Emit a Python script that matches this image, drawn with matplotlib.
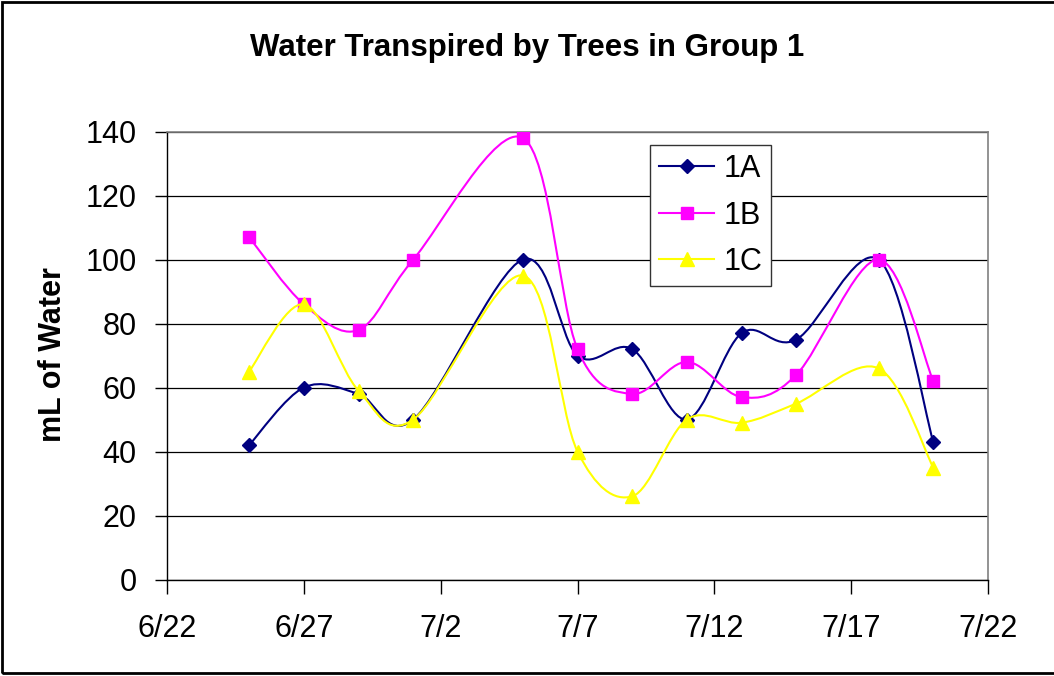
import numpy as np
import matplotlib
matplotlib.use("Agg")
import matplotlib.pyplot as plt
import matplotlib.dates as mdates
from matplotlib.path import Path
from matplotlib.patches import PathPatch, Rectangle
from matplotlib.lines import Line2D

plt.rcParams['font.family'] = ['Liberation Sans', 'DejaVu Sans']

# sample dates (2006 is arbitrary, only month/day are shown)
dates = ['2006-06-25', '2006-06-27', '2006-06-29', '2006-07-01', '2006-07-05', '2006-07-07',
         '2006-07-09', '2006-07-11', '2006-07-13', '2006-07-15', '2006-07-18', '2006-07-20']
tree_1a = [42, 60, 58, 50, 100, 70, 72, 50, 77, 75, 100, 43]
tree_1b = [107, 86, 78, 100, 138, 72, 58, 68, 57, 64, 100, 62]
tree_1c = [65, 86, 59, 50, 95, 40, 26, 50, 49, 55, 66, 35]

series_names = ['1A', '1B', '1C']
x_ticks = ['2006-06-22', '2006-06-27', '2006-07-02', '2006-07-07',
           '2006-07-12', '2006-07-17', '2006-07-22']
x_tick_labels = ['6/22', '6/27', '7/2', '7/7', '7/12', '7/17', '7/22']
y_ticks = [0, 20, 40, 60, 80, 100, 120, 140]

colors = ['#000080', '#FF00FF', '#FFFF00']
markers = ['D', 's', '^']
msizes = [7.5, 8, 9.5]


def smooth_path(x, y):
    # Excel-style smoothed line: cubic Bezier through the points (Catmull-Rom control points)
    p = np.column_stack([x, y])
    verts = [p[0]]
    codes = [Path.MOVETO]
    n = len(p)
    for i in range(n - 1):
        p0 = p[i - 1] if i > 0 else p[i]
        p3 = p[i + 2] if i + 2 < n else p[i + 1]
        c1 = p[i] + (p[i + 1] - p0) / 6
        c2 = p[i + 1] - (p3 - p[i]) / 6
        verts += [c1, c2, p[i + 1]]
        codes += [Path.CURVE4] * 3
    return Path(verts, codes)


fig = plt.figure(figsize=(10.54, 6.76), dpi=100)
ax = fig.add_axes([167 / 1054, (676 - 579.5) / 676, (988 - 167) / 1054, (579.5 - 131.5) / 676])

xd = mdates.date2num(np.array(dates, dtype='datetime64[D]'))
for vals, name, c, m, ms in zip([tree_1a, tree_1b, tree_1c], series_names, colors, markers, msizes):
    ax.add_patch(PathPatch(smooth_path(xd, vals), fill=False, edgecolor=c, lw=1.5, zorder=3))
    ax.plot(xd, vals, linestyle='none', marker=m, markersize=ms, color=c, zorder=3)

xt = mdates.date2num(np.array(x_ticks, dtype='datetime64[D]'))
ax.set_xlim(xt[0], xt[-1])
ax.set_ylim(0, 140)
ax.set_xticks(xt)
ax.set_xticklabels(x_tick_labels)
ax.set_yticks(y_ticks)
ax.tick_params(axis='both', labelsize=22, direction='out', width=1, color='black')
ax.tick_params(axis='y', length=9, pad=13)
ax.tick_params(axis='x', length=10, pad=15)

ax.set_axisbelow(True)
ax.yaxis.grid(True, color='black', lw=0.9)
for s in ['top', 'right']:
    ax.spines[s].set_color('#808080')
    ax.spines[s].set_linewidth(1.2)
for s in ['left', 'bottom']:
    ax.spines[s].set_color('black')
    ax.spines[s].set_linewidth(1.0)

fig.text(0.5, 1 - 56 / 676, 'Water Transpired by Trees in Group 1', ha='center', va='baseline',
         fontsize=22.5, fontweight='bold')
fig.text(53 / 1054, 1 - 355 / 676, 'mL of Water', rotation=90, ha='center', va='center',
         fontsize=22, fontweight='bold')

handles = [Line2D([], [], color=c, marker=m, markersize=ms, lw=1.5)
           for c, m, ms in zip(colors, markers, msizes)]
leg = fig.legend(handles, series_names, loc='upper left', bbox_to_anchor=(650 / 1054, 1 - 145 / 676),
                 fontsize=22, frameon=True, fancybox=False, framealpha=1, borderaxespad=0,
                 borderpad=0.3, labelspacing=0.54, handlelength=1.8, handletextpad=0.3)
leg.get_frame().set_edgecolor('#333333')
leg.get_frame().set_linewidth(1.0)

fig.patches.append(Rectangle((2 / 1054, 3 / 676), 1.2, 671.5 / 676, fill=False, edgecolor='black',
                             lw=2.0, transform=fig.transFigure, figure=fig))

fig.savefig('out.png', dpi=100)
